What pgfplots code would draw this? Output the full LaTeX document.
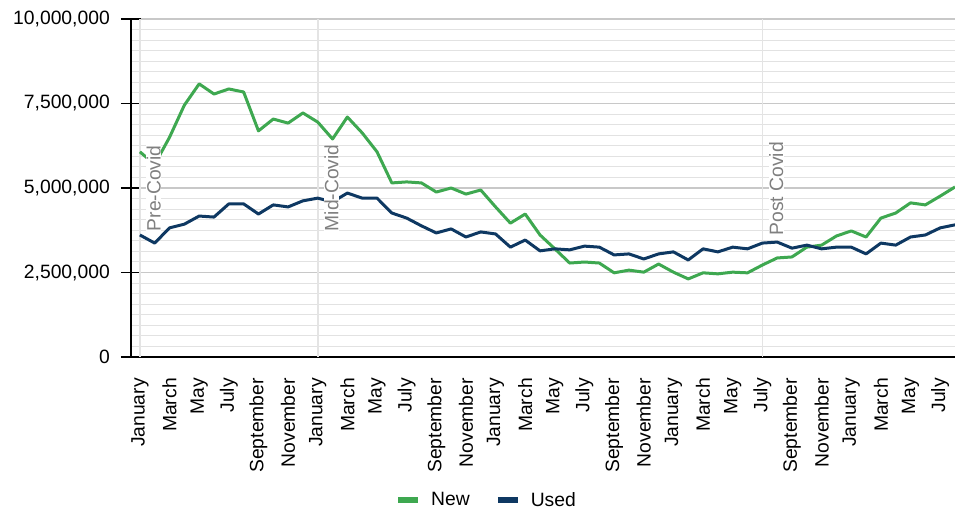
\documentclass[border=0pt]{standalone}
\usepackage{pgfplots}
\pgfplotsset{compat=1.18}
\usepackage{pgfplotstable}
\usepackage{fontspec}
\setmainfont{Liberation Sans}

\definecolor{newgreen}{RGB}{62,168,80}
\definecolor{usedblue}{RGB}{14,56,98}
\definecolor{majgrid}{RGB}{200,200,200}
\definecolor{mingrid}{RGB}{226,226,226}
\definecolor{eventline}{RGB}{228,228,228}
\definecolor{eventtext}{RGB}{128,128,128}

\newcommand\chartfont{\fontsize{19.3pt}{23pt}\selectfont}

% monthly registrations, January (year 1) to August (year 5)
\pgfplotstableread{
m  new      used
0  6070000  3610000
1  5700000  3370000
2  6500000  3820000
3  7450000  3930000
4  8080000  4170000
5  7780000  4140000
6  7930000  4530000
7  7840000  4530000
8  6690000  4230000
9  7040000  4500000
10 6920000  4440000
11 7220000  4620000
12 6950000  4700000
13 6450000  4590000
14 7100000  4850000
15 6630000  4700000
16 6070000  4700000
17 5150000  4260000
18 5180000  4110000
19 5150000  3880000
20 4880000  3670000
21 5000000  3790000
22 4820000  3550000
23 4940000  3700000
24 4440000  3640000
25 3960000  3250000
26 4230000  3460000
27 3610000  3140000
28 3200000  3200000
29 2780000  3170000
30 2810000  3280000
31 2780000  3250000
32 2490000  3020000
33 2570000  3050000
34 2510000  2900000
35 2750000  3050000
36 2510000  3110000
37 2310000  2870000
38 2490000  3200000
39 2460000  3110000
40 2510000  3250000
41 2490000  3200000
42 2720000  3370000
43 2930000  3400000
44 2960000  3220000
45 3250000  3310000
46 3310000  3200000
47 3580000  3250000
48 3730000  3250000
49 3550000  3050000
50 4110000  3370000
51 4260000  3310000
52 4560000  3550000
53 4500000  3610000
54 4760000  3820000
55 5030000  3910000
}\regdata

\begin{document}
\begin{tikzpicture}[font=\chartfont]
\begin{axis}[
  scale only axis,
  width=824pt, height=338pt,
  at={(131pt,151pt)}, anchor=south west,
  xmin=-0.6, xmax=55,
  ymin=0, ymax=10000000,
  axis lines*=left,
  axis line style={black, line width=1.4pt},
  % y axis
  scaled y ticks=false,
  ytick={0,2500000,5000000,7500000,10000000},
  yticklabels={0,{2,500,000},{5,000,000},{7,500,000},{10,000,000}},
  minor y tick num=7,
  ymajorgrids, yminorgrids,
  major grid style={majgrid, line width=1.3pt},
  minor grid style={mingrid, line width=1.1pt},
  tick align=center,
  major tick length=20pt,
  minor tick length=0pt,
  ytick style={black, line width=1.4pt},
  yticklabel style={anchor=east, inner sep=0pt, font=\chartfont},
  yticklabel shift=11pt,
  % x axis
  xtick={0,2,...,54},
  xticklabels={January,March,May,July,September,November,
               January,March,May,July,September,November,
               January,March,May,July,September,November,
               January,March,May,July,September,November,
               January,March,May,July},
  xtick style={draw=none},
  xticklabel style={rotate=90, anchor=east, inner sep=0pt, font=\chartfont},
  xticklabel shift=11pt,
  extra x ticks={0,12,42},
  extra x tick labels={},
  extra x tick style={xmajorgrids, major grid style={eventline, line width=1.6pt}, tick style={draw=none}},
  % legend
  legend columns=2,
  legend style={at={(0.432,-0.423)}, anchor=center, draw=none, fill=none,
    font=\chartfont, nodes={inner sep=3pt},
    /tikz/every odd column/.append style={column sep=7pt},
    /tikz/every even column/.append style={column sep=22pt}},
  legend image code/.code={\draw[#1, line width=6pt] (0pt,0pt) -- (20pt,0pt);},
]
\addplot[newgreen, line width=3pt, line join=round, mark=none] table[x=m, y=new] {\regdata};
\addlegendentry{New}
\addplot[usedblue, line width=3pt, line join=round, mark=none] table[x=m, y=used] {\regdata};
\addlegendentry{Used}

% period markers
\node[rotate=90, anchor=north west, fill=white, inner sep=0.5pt, text=eventtext, yshift=-6pt]
  at (axis cs:0,3700000) {Pre-Covid};
\node[rotate=90, anchor=north west, fill=white, inner sep=0.5pt, text=eventtext, yshift=-6pt]
  at (axis cs:12,3700000) {Mid-Covid};
\node[rotate=90, anchor=north west, fill=white, inner sep=0.5pt, text=eventtext, yshift=-6pt]
  at (axis cs:42,3580000) {Post Covid};
\end{axis}
\pgfresetboundingbox
\path[use as bounding box] (0,0) rectangle (955pt,508pt);
\end{tikzpicture}
\end{document}
